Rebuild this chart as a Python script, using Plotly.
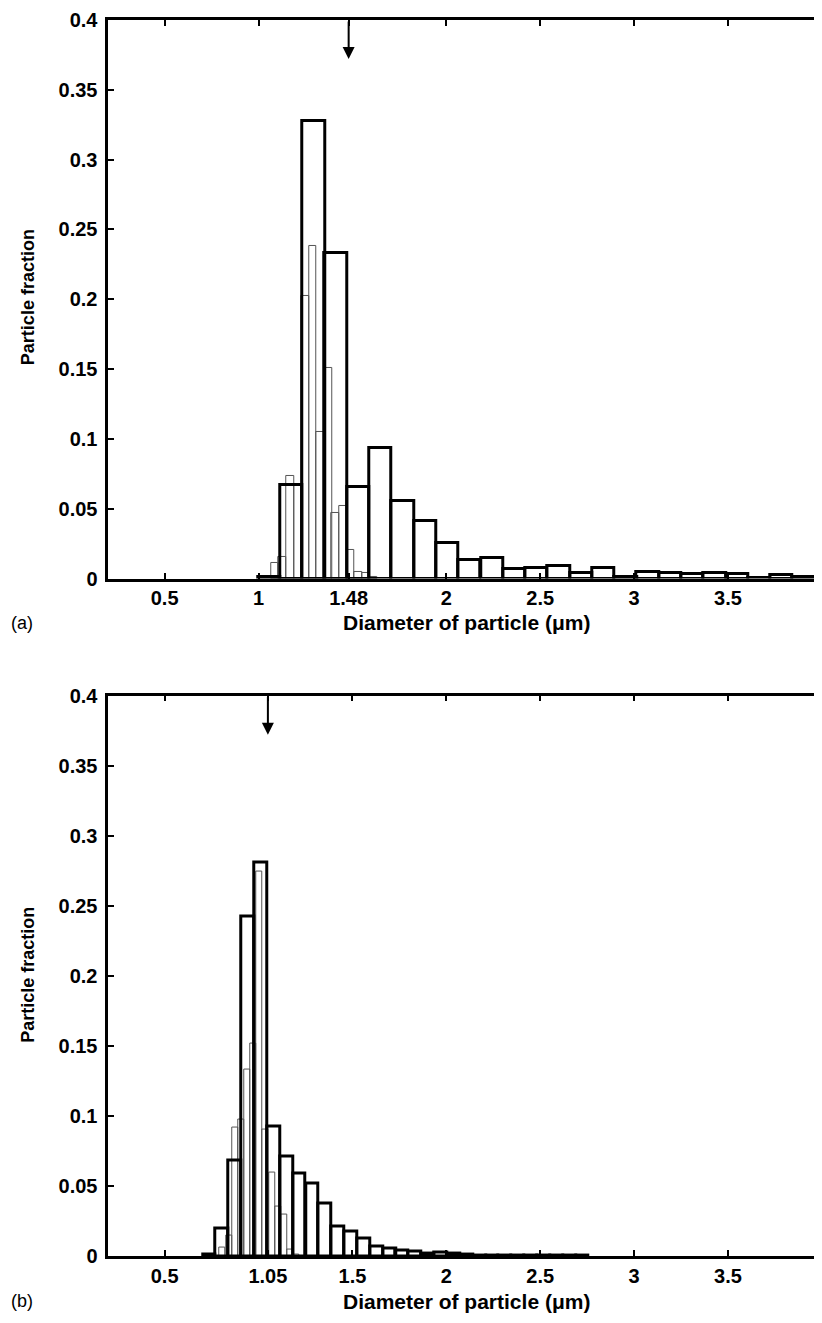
import plotly.graph_objects as go

# ---------------- data ----------------
# Panel (a): coarse histogram (thick outline)
a_thick_x = [1.057, 1.175, 1.294, 1.412, 1.531, 1.650, 1.768, 1.887, 2.006, 2.124,
             2.243, 2.362, 2.480, 2.599, 2.717, 2.836, 2.955, 3.073, 3.192, 3.310,
             3.429, 3.548, 3.666, 3.785, 3.903]
a_thick_y = [0.001, 0.0673, 0.328, 0.233, 0.0654, 0.0933, 0.0554, 0.0412, 0.0256, 0.0133,
             0.0144, 0.0066, 0.0073, 0.0090, 0.0038, 0.0073, 0.0010, 0.0050, 0.0038, 0.0033,
             0.0043, 0.0030, 0.0003, 0.0023, 0.0010]
a_thick_w = 0.1186
# Panel (a): fine histogram (thin grey outline)
a_thin_x = [1.087, 1.128, 1.168, 1.208, 1.249, 1.289, 1.330, 1.370, 1.410, 1.451,
            1.491, 1.532, 1.572, 1.613]
a_thin_y = [0.0114, 0.0156, 0.0737, 0.0670, 0.202, 0.238, 0.105, 0.151, 0.047, 0.052,
            0.0208, 0.0050, 0.0043, 0.0010]
a_thin_w = 0.0404
a_mean = 1.48

# Panel (b): coarse histogram (thick outline)
b_thick_x = [0.738, 0.806, 0.875, 0.943, 1.012, 1.080, 1.149, 1.217, 1.286, 1.354,
             1.423, 1.491, 1.560, 1.628, 1.697, 1.765, 1.834, 1.902, 1.971, 2.039,
             2.108, 2.176, 2.245, 2.313, 2.382, 2.450, 2.519, 2.587, 2.656, 2.724]
b_thick_y = [0.0012, 0.0196, 0.068, 0.2426, 0.281, 0.0924, 0.071, 0.059, 0.052, 0.0373,
             0.021, 0.0175, 0.0126, 0.0069, 0.0055, 0.0041, 0.0030, 0.0020, 0.0024, 0.0015,
             0.0008, 0.0007, 0.0005, 0.0005, 0.0004, 0.0006, 0.0005, 0.0004, 0.0005, 0.0003]
b_thick_w = 0.0685
# Panel (b): fine histogram (thin grey outline)
b_thin_x = [0.809, 0.842, 0.875, 0.907, 0.940, 0.973, 1.005, 1.038, 1.071, 1.103,
            1.136, 1.169, 1.201]
b_thin_y = [0.0061, 0.0147, 0.0917, 0.0971, 0.1333, 0.152, 0.2744, 0.0905, 0.0599, 0.035,
            0.0293, 0.0049, 0.0012]
b_thin_w = 0.0327
b_mean = 1.05

a_xticks = [0.5, 1, 1.48, 2, 2.5, 3, 3.5, 4]
a_xticktext = ["0.5", "1", "1.48", "2", "2.5", "3", "3.5", "4"]
b_xticks = [0.5, 1.05, 1.5, 2, 2.5, 3, 3.5, 4]
b_xticktext = ["0.5", "1.05", "1.5", "2", "2.5", "3", "3.5", "4"]
yticks = [0, 0.05, 0.1, 0.15, 0.2, 0.25, 0.3, 0.35, 0.4]
yticktext = ["0", "0.05", "0.1", "0.15", "0.2", "0.25", "0.3", "0.35", "0.4"]

# ---------------- figure ----------------
W, H = 822, 1323
FONT = "Liberation Sans, Arial, Helvetica, sans-serif"
fig = go.Figure()

def px_x(p):
    return p / W

def px_y(p):
    return 1 - p / H

panels = [
    ("x", "y", a_thin_x, a_thin_y, a_thin_w, a_thick_x, a_thick_y, a_thick_w),
    ("x2", "y2", b_thin_x, b_thin_y, b_thin_w, b_thick_x, b_thick_y, b_thick_w),
]
for xa, ya, tx, ty, tw, kx, ky, kw in panels:
    fig.add_trace(go.Bar(x=tx, y=ty, width=tw, xaxis=xa, yaxis=ya,
                         marker=dict(color="rgba(0,0,0,0)", line=dict(color="#555555", width=1)),
                         showlegend=False, hoverinfo="skip"))
    fig.add_trace(go.Bar(x=kx, y=ky, width=kw, xaxis=xa, yaxis=ya,
                         marker=dict(color="rgba(0,0,0,0)", line=dict(color="black", width=3)),
                         showlegend=False, hoverinfo="skip"))

axis_common = dict(showline=True, linewidth=2.5, linecolor="black", mirror="ticks",
                   ticks="inside", ticklen=6, tickwidth=2, tickcolor="black",
                   showgrid=False, zeroline=False, ticklabeloverflow="allow",
                   tickfont=dict(family=FONT, size=20, color="black", weight="bold"))

x_dom = [px_x(101), px_x(820)]
fig.update_layout(
    width=W, height=H,
    margin=dict(l=0, r=0, t=0, b=0),
    paper_bgcolor="white", plot_bgcolor="white",
    barmode="overlay", bargap=0,
    xaxis=dict(domain=x_dom, anchor="y", range=[0.2, 4.0005], tickvals=a_xticks,
               ticktext=a_xticktext, ticklabelstandoff=0, **axis_common),
    yaxis=dict(domain=[px_y(569), px_y(1)], anchor="x", range=[0, 0.4], tickvals=yticks,
               ticktext=yticktext, ticklabelstandoff=4, **axis_common),
    xaxis2=dict(domain=x_dom, anchor="y2", range=[0.2, 4.0005], tickvals=b_xticks,
                ticktext=b_xticktext, ticklabelstandoff=0, **axis_common),
    yaxis2=dict(domain=[px_y(1258), px_y(688)], anchor="x2", range=[0, 0.4], tickvals=yticks,
                ticktext=yticktext, ticklabelstandoff=4, **axis_common),
)

# Mean-diameter arrows
for xr, yr, m in [("x", "y", a_mean), ("x2", "y2", b_mean)]:
    fig.add_annotation(x=m, y=0.372, ax=m, ay=0.4, xref=xr, yref=yr, axref=xr, ayref=yr,
                       showarrow=True, arrowhead=2, arrowsize=1.2, arrowwidth=2,
                       arrowcolor="black", text="")

title_font = dict(family=FONT, size=21, color="black", weight="bold")
ytitle_font = dict(family=FONT, size=18, color="black", weight="bold")
for ycen_title, ycen_plot, lab in [(614, 283, "(a)"), (1304, 972, "(b)")]:
    fig.add_annotation(x=px_x(462), y=px_y(ycen_title), xref="paper", yref="paper",
                       text="Diameter of particle (μm)", showarrow=False,
                       font=title_font, xanchor="center", yanchor="middle")
    fig.add_annotation(x=px_x(20), y=px_y(ycen_plot), xref="paper", yref="paper",
                       text="Particle fraction", showarrow=False, textangle=-90,
                       font=ytitle_font, xanchor="center", yanchor="middle")
    fig.add_annotation(x=px_x(1), y=px_y(ycen_title), xref="paper", yref="paper",
                       text=lab, showarrow=False,
                       font=dict(family=FONT, size=18, color="black"),
                       xanchor="left", yanchor="middle")

fig.write_html("out.html")
